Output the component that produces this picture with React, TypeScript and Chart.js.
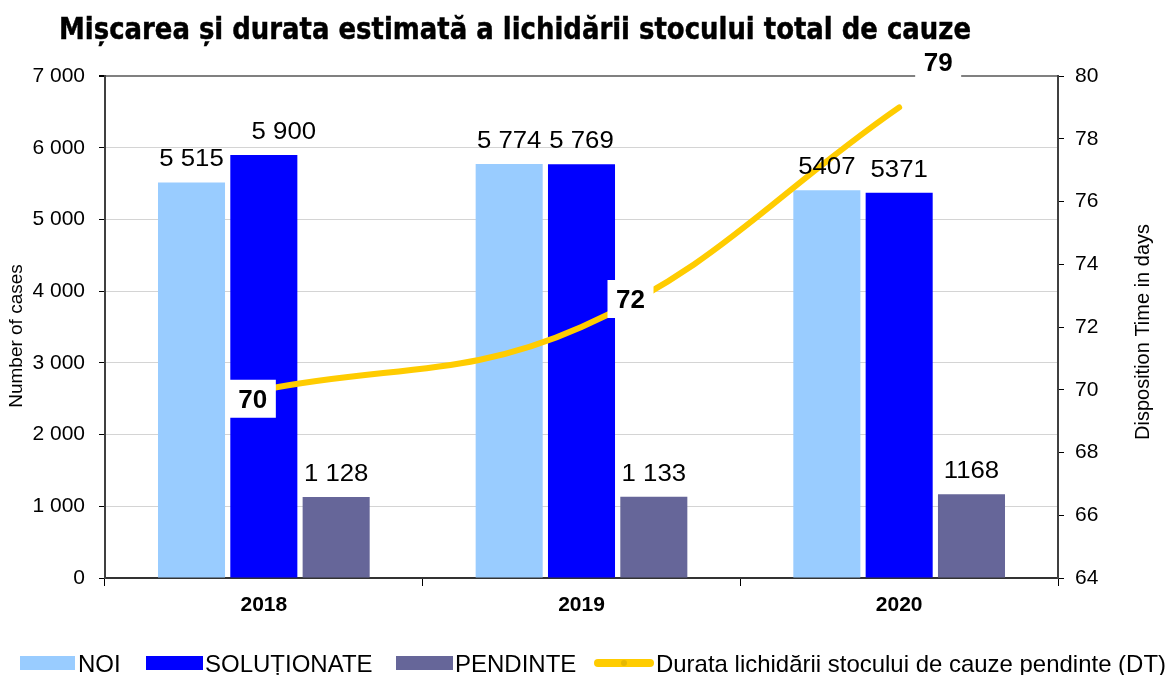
import React, { useEffect, useRef } from 'react';
import { Chart, registerables } from 'chart.js';

Chart.register(...registerables);

// ---------- data ----------
const categories = ['2018', '2019', '2020'];
const seriesNames = ['NOI', 'SOLUȚIONATE', 'PENDINTE', 'Durata lichidării stocului de cauze pendinte (DT)'];
const noi = [5515, 5774, 5407];
const solutionate = [5900, 5769, 5371];
const pendinte = [1128, 1133, 1168];
const durata = [70, 72, 79];
const noiLabels = ['5 515', '5 774', '5407'];
const solLabels = ['5 900', '5 769', '5371'];
const pendLabels = ['1 128', '1 133', '1168'];
const durataLabels = ['70', '72', '79'];
const titleText = 'Mișcarea și durata estimată a lichidării stocului total de cauze';
const leftAxisTitle = 'Number of cases';
const rightAxisTitle = 'Disposition Time in days';

// ---------- style ----------
const FONT = '"Liberation Sans", Arial, sans-serif';
const colors = ['#99CCFF', '#0000FF', '#666699', '#FFCC00'];

const fmt = (v: number) => String(v).replace(/\B(?=(\d{3})+(?!\d))/g, ' ');

const overlayPlugin = {
  id: 'overlay',
  afterDatasetsDraw(chart: any) {
    const ctx = chart.ctx as CanvasRenderingContext2D;
    const labelSets = [noiLabels, solLabels, pendLabels];
    const barDx = [[0, 0, 0], [20, 0, 0], [0, 0, 0]];
    for (let d = 0; d < 3; d++) {
      const meta = chart.getDatasetMeta(d);
      meta.data.forEach((el: any, i: number) => {
        ctx.save();
        ctx.font = `23px ${FONT}`;
        ctx.fillStyle = '#000';
        ctx.textAlign = 'center';
        ctx.textBaseline = 'alphabetic';
        ctx.translate(el.x + barDx[d][i], el.y - 16);
        ctx.scale(1.12, 1);
        ctx.fillText(labelSets[d][i], 0, 0);
        ctx.restore();
      });
    }
    const lineOff = [[-11, 9], [49, -28], [39, -45]];
    const lmeta = chart.getDatasetMeta(3);
    lmeta.data.forEach((el: any, i: number) => {
      const cx = el.x + lineOff[i][0];
      const cy = el.y + lineOff[i][1];
      ctx.save();
      ctx.fillStyle = '#fff';
      ctx.fillRect(cx - 23, cy - 19, 46, 38);
      ctx.fillStyle = '#000';
      ctx.font = `bold 26px ${FONT}`;
      ctx.textAlign = 'center';
      ctx.textBaseline = 'alphabetic';
      ctx.fillText(durataLabels[i], cx, cy + 9);
      ctx.restore();
    });
  },
  afterDraw(chart: any) {
    const ctx = chart.ctx as CanvasRenderingContext2D;
    ctx.save();
    // title
    ctx.fillStyle = '#000';
    ctx.font = `bold 31px "DejaVu Sans", sans-serif`;
    ctx.textAlign = 'left';
    ctx.textBaseline = 'alphabetic';
    ctx.lineWidth = 0.5;
    ctx.strokeStyle = '#000';
    ctx.fillText(titleText, 59, 39, 912);
    ctx.strokeText(titleText, 59, 39, 912);

    // axis titles
    ctx.font = `19px ${FONT}`;
    ctx.textAlign = 'center';
    ctx.textBaseline = 'middle';
    ctx.save();
    ctx.translate(17, 336);
    ctx.rotate(-Math.PI / 2);
    ctx.fillText(leftAxisTitle, 0, 0);
    ctx.restore();
    ctx.save();
    ctx.translate(1143, 332);
    ctx.rotate(-Math.PI / 2);
    ctx.font = `20px ${FONT}`;
    ctx.fillText(rightAxisTitle, 0, 0);
    ctx.restore();

    // legend
    const ly = 663;
    const boxes = [
      { x0: 20, x1: 75, tx: 78, mw: 43 },
      { x0: 146, x1: 203, tx: 205, mw: 168 },
      { x0: 396, x1: 453, tx: 455, mw: 122 },
    ];
    ctx.font = `24px ${FONT}`;
    ctx.textAlign = 'left';
    ctx.textBaseline = 'alphabetic';
    boxes.forEach((b, i) => {
      ctx.fillStyle = colors[i];
      ctx.fillRect(b.x0, ly - 7, b.x1 - b.x0, 14);
      ctx.fillStyle = '#000';
      ctx.fillText(seriesNames[i], b.tx, ly + 9, b.mw);
    });
    ctx.strokeStyle = colors[3];
    ctx.lineWidth = 8;
    ctx.lineCap = 'round';
    ctx.beginPath();
    ctx.moveTo(598, ly);
    ctx.lineTo(650, ly);
    ctx.stroke();
    ctx.fillStyle = '#E6B800';
    ctx.beginPath();
    ctx.arc(624, ly, 3, 0, Math.PI * 2);
    ctx.fill();
    ctx.fillStyle = '#000';
    ctx.fillText(seriesNames[3], 656, ly + 9, 510);
    ctx.restore();
  },
};

export default function App() {
  const ref = useRef<HTMLCanvasElement>(null);
  useEffect(() => {
    if (!ref.current) return;
    const chart = new Chart(ref.current, {
      type: 'bar',
      data: {
        labels: categories,
        datasets: [
          { label: seriesNames[0], data: noi, backgroundColor: colors[0], yAxisID: 'y', order: 1, categoryPercentage: 0.683, barPercentage: 0.927 },
          { label: seriesNames[1], data: solutionate, backgroundColor: colors[1], yAxisID: 'y', order: 1, categoryPercentage: 0.683, barPercentage: 0.927 },
          { label: seriesNames[2], data: pendinte, backgroundColor: colors[2], yAxisID: 'y', order: 1, categoryPercentage: 0.683, barPercentage: 0.927 },
          {
            type: 'line', label: seriesNames[3], data: durata, borderColor: colors[3], backgroundColor: colors[3],
            borderWidth: 6, tension: 0.4, pointRadius: 0, borderCapStyle: 'round', yAxisID: 'y1', order: 0, fill: false,
          } as any,
        ],
      },
      options: {
        responsive: false,
        animation: false,
        devicePixelRatio: 1,
        layout: { padding: { top: 76, left: 0, right: 0, bottom: 0 } },
        plugins: { legend: { display: false }, tooltip: { enabled: false }, title: { display: false } },
        scales: {
          x: {
            afterFit: (s: any) => { s.height = 97; },
            grid: { offset: true, drawOnChartArea: false, tickLength: 8, color: '#000', tickColor: '#000' },
            border: { color: '#333', width: 2 },
            ticks: { color: '#000', font: { family: FONT, size: 21, weight: 'bold' }, padding: 7 },
          },
          y: {
            position: 'left',
            min: 0, max: 7000,
            afterFit: (s: any) => { s.width = 105; },
            ticks: { stepSize: 1000, color: '#000', font: { family: FONT, size: 21 }, padding: 14, callback: (v: any) => fmt(Number(v)) },
            grid: {
              tickLength: 6,
              tickColor: '#000',
              color: (c: any) => (c.tick && c.tick.value === 7000 ? '#808080' : '#d4d4d4'),
              lineWidth: (c: any) => (c.tick && c.tick.value === 7000 ? 2 : 1),
            },
            border: { color: '#404040', width: 2 },
          },
          y1: {
            position: 'right',
            min: 64, max: 80,
            afterFit: (s: any) => { s.width = 111; },
            ticks: { stepSize: 2, color: '#000', font: { family: FONT, size: 21 }, padding: 11 },
            grid: { drawOnChartArea: false, tickLength: 6, tickColor: '#000' },
            border: { color: '#404040', width: 2 },
          },
        },
      },
      plugins: [overlayPlugin],
    });
    return () => chart.destroy();
  }, []);
  return (
    <div style={{ position: 'absolute', left: 0, top: 0, width: 1169, height: 675, background: '#fff' }}>
      <canvas ref={ref} width={1169} height={675} />
    </div>
  );
}
